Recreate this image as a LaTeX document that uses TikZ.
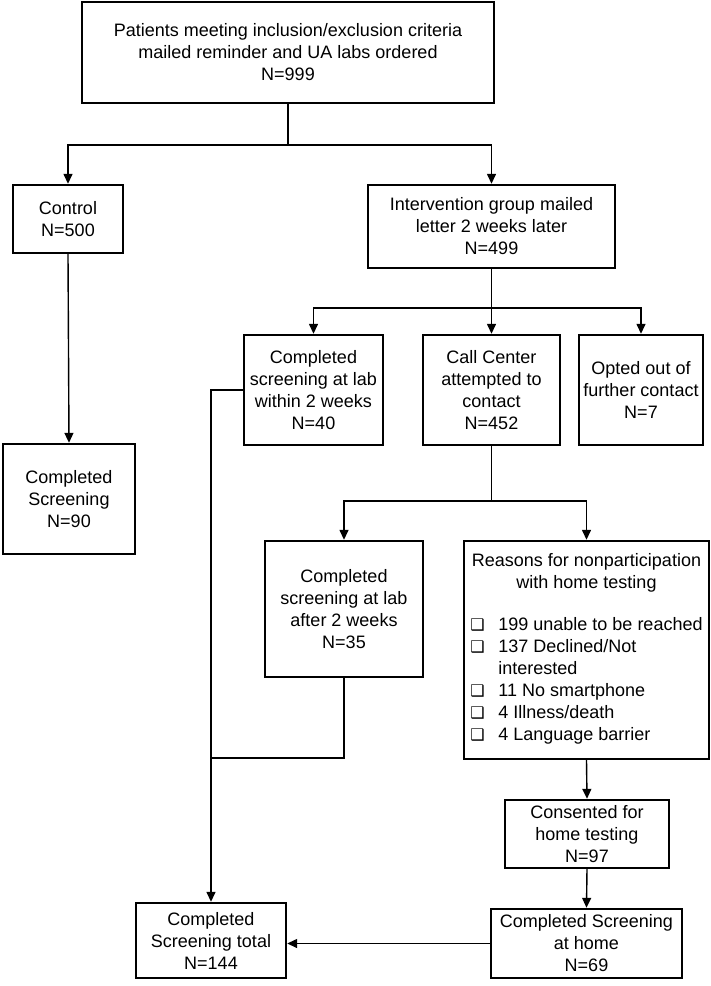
\documentclass[tikz,border=0pt]{standalone}
\usepackage{fontspec}
\setmainfont{Liberation Sans}
\newfontfamily\dejavu{DejaVu Sans}
\usetikzlibrary{arrows.meta}
\newcommand{\cbx}{\makebox[28pt][l]{\dejavu\fontsize{16}{22}\selectfont ❑}}
\tikzset{
  box/.style={draw, line width=2.4pt, align=center, inner sep=0pt,
    font=\fontsize{18}{22}\selectfont},
  conn/.style={line width=1.4pt},
  arr/.style={conn, -{Triangle[length=10pt,width=9pt]}}
}
\begin{document}
\begin{tikzpicture}[x=1pt,y=-1pt]
\useasboundingbox[fill=white] (0,0) rectangle (711,986);
\node[box, minimum width=412pt, minimum height=101pt] (top) at (288,52.5)
  {Patients meeting inclusion/exclusion criteria\\mailed reminder and UA labs ordered\\N=999};
\node[box, minimum width=110pt, minimum height=68pt] (control) at (68,219) {Control\\N=500};
\node[box, minimum width=247pt, minimum height=83pt] (interv) at (491.5,226.5)
  {Intervention group mailed\\letter 2 weeks later\\N=499};
\node[box, minimum width=132pt, minimum height=110pt] (done90) at (69,499) {Completed\\Screening\\N=90};
\node[box, minimum width=139pt, minimum height=110pt] (lab1) at (313.5,390)
  {Completed\\screening at lab\\within 2 weeks\\N=40};
\node[box, minimum width=137pt, minimum height=110pt] (call) at (491.5,390)
  {Call Center\\attempted to\\contact\\N=452};
\node[box, minimum width=124pt, minimum height=110pt] (opted) at (641,390)
  {Opted out of\\further contact\\N=7};
\node[box, minimum width=158pt, minimum height=136pt] (lab2) at (344,609)
  {Completed\\screening at lab\\after 2 weeks\\N=35};
\node[box, minimum width=245pt, minimum height=218pt] (reasons) at (586.5,650)
  {Reasons for nonparticipation\\with home testing\\[22pt]
   \begin{tabular}{@{}l@{}}
   \cbx 199 unable to be reached\\
   \cbx 137 Declined/Not\\
   \hspace*{28pt}interested\\
   \cbx 11 No smartphone\\
   \cbx 4 Illness/death\\
   \cbx 4 Language barrier
   \end{tabular}};
\node[box, minimum width=164pt, minimum height=68pt] (consent) at (587,834)
  {Consented for\\home testing\\N=97};
\node[box, minimum width=191pt, minimum height=69pt] (home) at (586.5,943.5)
  {Completed Screening\\at home\\N=69};
\node[box, minimum width=150pt, minimum height=75pt] (total) at (211,940.5)
  {Completed\\Screening total\\N=144};
\coordinate (split1) at (288,145);
\coordinate (split2) at (491.5,308);
\coordinate (split3) at (491.5,501);
\coordinate (join) at (211,758);
\draw[conn] (top.south) -- (split1);
\draw[arr] (split1) -| (control.north);
\draw[arr] (split1) -| (interv.north);
\draw[arr] (control.south) -- (done90.north);
\draw[conn] (interv.south) -- (split2);
\draw[arr] (split2) -| (lab1.north);
\draw[arr] (split2) -- (call.north);
\draw[arr] (split2) -| (opted.north);
\draw[conn] (call.south) -- (split3);
\draw[arr] (split3) -| (lab2.north);
\draw[arr] (split3) -| (reasons.north);
\draw[arr] (reasons.south) -- (consent.north);
\draw[arr] (consent.south) -- (home.north);
\draw[arr] (home.west) -- (home.west -| total.east);
\draw[arr] (lab1.west) -| (total.north);
\draw[conn] (lab2.south) |- (join);
\end{tikzpicture}
\end{document}
